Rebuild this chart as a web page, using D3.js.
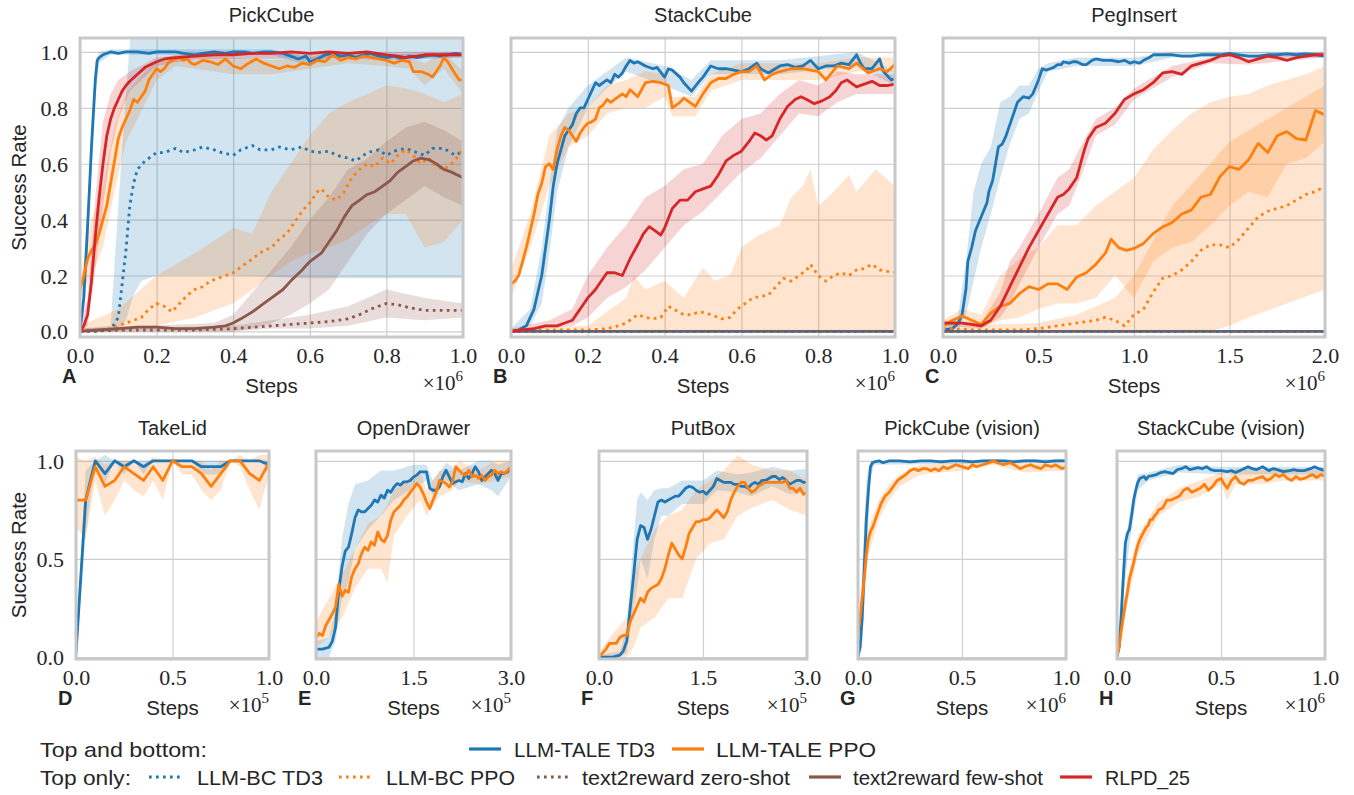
<!DOCTYPE html>
<html><head><meta charset="utf-8">
<script src="https://cdn.jsdelivr.net/npm/d3@7"></script>
<style>body{margin:0;background:#fff}svg{display:block}</style>
</head><body><svg id="c" width="1354" height="795"></svg>
<script>
// ---------------- DATA ----------------
const panelTitles = ["PickCube","StackCube","PegInsert","TakeLid","OpenDrawer","PutBox","PickCube (vision)","StackCube (vision)"];
const panelLetters = ["A","B","C","D","E","F","G","H"];
const seriesNames = ["LLM-TALE TD3","LLM-TALE PPO","LLM-BC TD3","LLM-BC PPO","text2reward zero-shot","text2reward few-shot","RLPD_25"];
const yTicksTop = [0,0.2,0.4,0.6,0.8,1.0];
const yTicksBottom = [0,0.5,1.0];
const xTicks1 = [0,0.2,0.4,0.6,0.8,1.0];
const xTicks2 = [0,0.5,1.0,1.5,2.0];
const xTicksHalf = [0,0.5,1.0];
const xTicks3 = [0,1.5,3.0];

const flatZero1 = [[0,0],[1,0]];
const flatZero2 = [[0,0],[2,0]];

// --- PickCube
const pickTaleTD3 = [[0,0],[0.01,0.12],[0.02,0.38],[0.03,0.66],[0.04,0.9],[0.045,0.97],[0.05,0.98],[0.06,0.99],[0.08,1.0],[0.1,0.995],[0.12,1.0],[0.15,1.0],[0.18,0.995],[0.2,1.0],[0.23,1.0],[0.25,1.0],[0.27,0.995],[0.3,0.99],[0.32,0.995],[0.35,1.0],[0.38,0.995],[0.4,1.0],[0.43,1.0],[0.45,0.995],[0.48,1.0],[0.5,1.0],[0.53,0.995],[0.55,0.985],[0.57,0.975],[0.59,0.985],[0.6,0.965],[0.62,0.975],[0.64,0.99],[0.66,0.995],[0.68,0.985],[0.7,0.99],[0.72,0.98],[0.74,0.99],[0.76,0.995],[0.78,0.985],[0.8,0.98],[0.82,0.985],[0.84,0.975],[0.86,0.985],[0.88,0.98],[0.9,0.985],[0.92,0.99],[0.94,0.985],[0.96,0.99],[0.98,0.995],[1.0,0.99]];
const pickTaleTD3Band = [[0,0,0.02],[0.02,0.3,0.46],[0.03,0.58,0.74],[0.04,0.84,0.96],[0.05,0.96,1.0],[0.08,0.99,1.01],[0.5,0.99,1.01],[0.6,0.95,0.98],[0.65,0.98,1.0],[0.8,0.97,0.99],[0.9,0.975,0.995],[1.0,0.98,1.0]];
const pickTalePPO = [[0,0.15],[0.01,0.2],[0.02,0.26],[0.03,0.29],[0.04,0.31],[0.05,0.35],[0.06,0.4],[0.07,0.45],[0.08,0.53],[0.09,0.61],[0.1,0.69],[0.11,0.73],[0.12,0.76],[0.13,0.79],[0.14,0.83],[0.15,0.82],[0.16,0.84],[0.17,0.86],[0.18,0.9],[0.19,0.92],[0.2,0.94],[0.21,0.93],[0.22,0.94],[0.23,0.96],[0.24,0.97],[0.26,0.98],[0.27,0.97],[0.28,0.975],[0.29,0.96],[0.3,0.955],[0.32,0.97],[0.34,0.965],[0.36,0.955],[0.38,0.975],[0.4,0.95],[0.42,0.94],[0.44,0.96],[0.46,0.975],[0.48,0.96],[0.5,0.95],[0.52,0.94],[0.54,0.95],[0.56,0.945],[0.58,0.96],[0.6,0.955],[0.62,0.97],[0.64,0.965],[0.66,0.99],[0.68,0.97],[0.7,0.98],[0.72,0.975],[0.74,0.985],[0.76,0.98],[0.78,0.975],[0.8,0.97],[0.82,0.96],[0.84,0.97],[0.86,0.965],[0.87,0.93],[0.89,0.93],[0.91,0.92],[0.92,0.91],[0.94,0.95],[0.95,0.98],[0.96,0.965],[0.98,0.92],[0.99,0.9],[1.0,0.9]];
const pickTalePPOBand = [[0,0.12,0.18],[0.03,0.2,0.4],[0.06,0.3,0.52],[0.09,0.5,0.73],[0.12,0.68,0.85],[0.15,0.76,0.9],[0.2,0.9,0.97],[0.25,0.95,0.99],[0.4,0.92,0.98],[0.5,0.92,0.97],[0.6,0.94,0.98],[0.7,0.96,0.99],[0.8,0.95,0.99],[0.86,0.94,0.98],[0.9,0.88,0.96],[0.95,0.94,1.0],[1.0,0.85,0.93]];
const pickBCTD3 = [[0,0],[0.04,0],[0.08,0.005],[0.1,0.05],[0.11,0.17],[0.12,0.29],[0.13,0.45],[0.14,0.53],[0.15,0.58],[0.17,0.61],[0.2,0.64],[0.22,0.64],[0.25,0.655],[0.27,0.64],[0.3,0.65],[0.32,0.66],[0.35,0.65],[0.37,0.64],[0.4,0.63],[0.42,0.65],[0.45,0.665],[0.47,0.65],[0.5,0.65],[0.52,0.66],[0.55,0.65],[0.58,0.66],[0.6,0.645],[0.62,0.64],[0.65,0.645],[0.67,0.63],[0.7,0.62],[0.72,0.61],[0.75,0.64],[0.78,0.65],[0.8,0.63],[0.82,0.645],[0.85,0.655],[0.88,0.64],[0.9,0.63],[0.92,0.655],[0.95,0.655],[0.98,0.63],[1.0,0.645]];
const pickBCTD3Band = [[0,0,0.01],[0.08,0,0.02],[0.1,0,0.45],[0.12,0.04,0.85],[0.14,0.13,1.2],[0.16,0.18,1.2],[0.2,0.2,1.2],[0.4,0.2,1.2],[0.6,0.19,1.2],[0.8,0.19,1.2],[1.0,0.19,1.2]];
const pickBCPPO = [[0,0],[0.05,0.005],[0.08,0.01],[0.1,0.02],[0.12,0.03],[0.14,0.04],[0.16,0.05],[0.18,0.08],[0.2,0.1],[0.22,0.09],[0.24,0.07],[0.26,0.1],[0.28,0.13],[0.3,0.15],[0.32,0.16],[0.34,0.18],[0.36,0.19],[0.38,0.2],[0.4,0.21],[0.42,0.23],[0.44,0.25],[0.46,0.27],[0.48,0.29],[0.5,0.3],[0.52,0.33],[0.54,0.35],[0.56,0.39],[0.58,0.43],[0.6,0.46],[0.62,0.5],[0.63,0.51],[0.65,0.48],[0.67,0.47],[0.69,0.5],[0.71,0.55],[0.73,0.58],[0.75,0.6],[0.77,0.59],[0.79,0.62],[0.81,0.6],[0.83,0.63],[0.85,0.65],[0.87,0.63],[0.89,0.6],[0.91,0.62],[0.93,0.59],[0.95,0.58],[0.97,0.6],[0.99,0.63],[1.0,0.66]];
const pickBCPPOBand = [[0,0,0.02],[0.1,0,0.08],[0.2,0.02,0.2],[0.3,0.05,0.28],[0.4,0.1,0.37],[0.45,0.15,0.35],[0.5,0.2,0.5],[0.55,0.25,0.6],[0.6,0.28,0.7],[0.65,0.3,0.78],[0.7,0.33,0.82],[0.75,0.38,0.85],[0.8,0.42,0.88],[0.85,0.42,0.87],[0.9,0.3,0.85],[0.95,0.32,0.82],[1.0,0.4,0.85]];
const pickT2RZero = [[0,0],[0.1,0.005],[0.2,0.005],[0.3,0.005],[0.4,0.01],[0.5,0.02],[0.55,0.025],[0.6,0.03],[0.65,0.035],[0.7,0.045],[0.73,0.06],[0.76,0.08],[0.8,0.1],[0.83,0.095],[0.86,0.085],[0.9,0.075],[0.95,0.075],[1.0,0.075]];
const pickT2RZeroBand = [[0,0,0.01],[0.4,0,0.02],[0.5,0.01,0.04],[0.6,0.01,0.06],[0.7,0.02,0.09],[0.8,0.05,0.15],[0.9,0.04,0.12],[1.0,0.05,0.1]];
const pickT2RFew = [[0,0],[0.05,0.005],[0.1,0.01],[0.15,0.015],[0.2,0.015],[0.25,0.01],[0.3,0.01],[0.35,0.015],[0.38,0.02],[0.4,0.03],[0.42,0.045],[0.45,0.07],[0.48,0.1],[0.5,0.12],[0.53,0.15],[0.55,0.18],[0.58,0.22],[0.6,0.25],[0.63,0.28],[0.65,0.32],[0.67,0.36],[0.69,0.41],[0.71,0.45],[0.73,0.47],[0.75,0.49],[0.77,0.5],[0.79,0.52],[0.81,0.54],[0.83,0.57],[0.85,0.59],[0.87,0.61],[0.89,0.62],[0.91,0.615],[0.93,0.6],[0.95,0.58],[0.97,0.57],[1.0,0.55]];
const pickT2RFewBand = [[0,0,0.01],[0.35,0,0.03],[0.4,0,0.06],[0.45,0.01,0.14],[0.5,0.03,0.22],[0.55,0.06,0.3],[0.6,0.1,0.4],[0.65,0.15,0.48],[0.7,0.25,0.58],[0.75,0.35,0.62],[0.8,0.42,0.68],[0.85,0.47,0.73],[0.9,0.52,0.75],[0.95,0.48,0.72],[1.0,0.45,0.68]];
const pickRLPD = [[0,0],[0.01,0.02],[0.02,0.06],[0.03,0.18],[0.04,0.34],[0.05,0.48],[0.06,0.6],[0.07,0.7],[0.08,0.76],[0.09,0.8],[0.1,0.83],[0.11,0.86],[0.12,0.88],[0.13,0.895],[0.15,0.92],[0.17,0.945],[0.2,0.965],[0.22,0.975],[0.25,0.98],[0.3,0.985],[0.35,0.99],[0.4,0.99],[0.45,0.995],[0.5,0.995],[0.55,1.0],[0.6,0.995],[0.65,1.0],[0.7,0.995],[0.75,1.0],[0.8,0.99],[0.83,0.985],[0.85,0.98],[0.88,0.985],[0.9,0.99],[0.95,0.99],[1.0,0.99]];
const pickRLPDBand = [[0,0,0.02],[0.02,0.02,0.12],[0.04,0.22,0.48],[0.06,0.45,0.75],[0.08,0.64,0.85],[0.1,0.76,0.9],[0.13,0.86,0.93],[0.2,0.95,0.98],[0.3,0.975,0.995],[1.0,0.98,1.0]];

// --- StackCube
const stackTaleTD3 = [[0,0],[0.02,0.005],[0.04,0.02],[0.06,0.08],[0.07,0.14],[0.08,0.2],[0.09,0.3],[0.1,0.4],[0.11,0.52],[0.12,0.6],[0.13,0.65],[0.14,0.7],[0.15,0.72],[0.16,0.74],[0.17,0.78],[0.18,0.8],[0.19,0.8],[0.2,0.83],[0.21,0.86],[0.22,0.89],[0.23,0.88],[0.24,0.89],[0.25,0.9],[0.26,0.89],[0.27,0.92],[0.28,0.91],[0.29,0.925],[0.3,0.95],[0.31,0.97],[0.32,0.96],[0.33,0.965],[0.35,0.95],[0.37,0.94],[0.38,0.945],[0.4,0.91],[0.41,0.94],[0.42,0.935],[0.44,0.91],[0.45,0.89],[0.47,0.86],[0.49,0.895],[0.5,0.91],[0.52,0.95],[0.54,0.94],[0.56,0.94],[0.58,0.935],[0.6,0.93],[0.62,0.94],[0.64,0.96],[0.65,0.94],[0.67,0.925],[0.7,0.95],[0.72,0.955],[0.74,0.945],[0.76,0.95],[0.78,0.97],[0.8,0.94],[0.82,0.95],[0.84,0.95],[0.86,0.96],[0.88,0.955],[0.9,0.99],[0.91,0.96],[0.92,0.94],[0.94,0.94],[0.96,0.975],[0.97,0.93],[0.99,0.9],[1.0,0.905]];
const stackTaleTD3Band = [[0,0,0.01],[0.05,0.02,0.08],[0.08,0.1,0.3],[0.1,0.28,0.52],[0.12,0.5,0.72],[0.15,0.66,0.8],[0.2,0.8,0.88],[0.25,0.87,0.93],[0.3,0.93,0.98],[0.4,0.88,0.95],[0.47,0.84,0.9],[0.52,0.92,0.97],[0.7,0.92,0.97],[0.9,0.95,1.0],[1.0,0.88,0.93]];
const stackTalePPO = [[0,0.17],[0.01,0.18],[0.02,0.2],[0.03,0.25],[0.04,0.3],[0.05,0.36],[0.06,0.42],[0.07,0.49],[0.08,0.53],[0.09,0.59],[0.1,0.6],[0.11,0.58],[0.12,0.65],[0.13,0.7],[0.14,0.73],[0.15,0.72],[0.16,0.7],[0.17,0.68],[0.18,0.71],[0.19,0.73],[0.2,0.745],[0.21,0.75],[0.22,0.76],[0.23,0.8],[0.24,0.81],[0.25,0.83],[0.26,0.82],[0.27,0.83],[0.28,0.84],[0.29,0.85],[0.3,0.84],[0.31,0.865],[0.33,0.84],[0.35,0.89],[0.37,0.895],[0.39,0.89],[0.41,0.88],[0.42,0.8],[0.44,0.82],[0.45,0.835],[0.47,0.815],[0.48,0.805],[0.5,0.85],[0.52,0.89],[0.54,0.905],[0.56,0.905],[0.58,0.92],[0.6,0.93],[0.62,0.93],[0.64,0.95],[0.66,0.9],[0.68,0.92],[0.7,0.93],[0.73,0.94],[0.76,0.94],[0.78,0.935],[0.8,0.93],[0.82,0.9],[0.85,0.95],[0.88,0.94],[0.9,0.96],[0.93,0.925],[0.96,0.94],[0.98,0.93],[1.0,0.955]];
const stackTalePPOBand = [[0,0.12,0.22],[0.05,0.3,0.42],[0.1,0.52,0.7],[0.15,0.66,0.78],[0.2,0.7,0.8],[0.25,0.78,0.88],[0.3,0.8,0.9],[0.35,0.8,0.93],[0.4,0.84,0.92],[0.42,0.77,0.84],[0.48,0.77,0.84],[0.52,0.86,0.92],[0.6,0.9,0.96],[0.7,0.9,0.96],[0.8,0.9,0.96],[0.9,0.93,0.98],[1.0,0.93,0.98]];
const stackBCPPO = [[0,0],[0.1,0.005],[0.2,0.005],[0.25,0.01],[0.28,0.02],[0.3,0.03],[0.32,0.05],[0.33,0.06],[0.35,0.05],[0.37,0.045],[0.39,0.05],[0.4,0.07],[0.41,0.09],[0.43,0.075],[0.45,0.06],[0.47,0.06],[0.49,0.07],[0.51,0.065],[0.53,0.055],[0.55,0.045],[0.57,0.05],[0.59,0.08],[0.61,0.1],[0.63,0.12],[0.65,0.125],[0.67,0.13],[0.69,0.16],[0.71,0.19],[0.73,0.18],[0.75,0.2],[0.77,0.22],[0.78,0.24],[0.8,0.2],[0.82,0.18],[0.84,0.2],[0.86,0.21],[0.88,0.2],[0.9,0.22],[0.92,0.225],[0.94,0.24],[0.96,0.22],[0.98,0.215],[1.0,0.21]];
const stackBCPPOBand = [[0,0,0.01],[0.2,0,0.02],[0.25,0,0.07],[0.3,0,0.12],[0.32,0,0.2],[0.35,0,0.15],[0.4,0,0.18],[0.45,0,0.12],[0.5,0,0.23],[0.53,0,0.18],[0.57,0,0.2],[0.6,0,0.3],[0.64,0,0.34],[0.7,0,0.38],[0.73,0,0.48],[0.76,0,0.52],[0.78,0,0.58],[0.8,0,0.45],[0.84,0,0.5],[0.88,0,0.56],[0.9,0,0.5],[0.95,0,0.58],[1.0,0,0.52]];
const stackRLPD = [[0,0],[0.03,0.005],[0.06,0.01],[0.09,0.02],[0.12,0.02],[0.14,0.03],[0.16,0.04],[0.17,0.06],[0.19,0.1],[0.2,0.12],[0.22,0.15],[0.24,0.19],[0.25,0.21],[0.27,0.21],[0.29,0.2],[0.31,0.26],[0.33,0.31],[0.345,0.35],[0.36,0.375],[0.38,0.355],[0.39,0.345],[0.4,0.37],[0.42,0.44],[0.44,0.47],[0.46,0.47],[0.48,0.5],[0.5,0.51],[0.52,0.52],[0.54,0.56],[0.56,0.61],[0.58,0.63],[0.6,0.645],[0.62,0.68],[0.635,0.71],[0.65,0.7],[0.665,0.685],[0.68,0.7],[0.7,0.76],[0.72,0.805],[0.74,0.83],[0.755,0.84],[0.77,0.83],[0.79,0.815],[0.81,0.825],[0.83,0.84],[0.845,0.86],[0.86,0.89],[0.875,0.9],[0.89,0.885],[0.9,0.875],[0.92,0.885],[0.94,0.895],[0.96,0.88],[0.98,0.88],[1.0,0.885]];
const stackRLPDBand = [[0,0,0.01],[0.1,0.01,0.04],[0.16,0.02,0.08],[0.2,0.05,0.2],[0.25,0.12,0.3],[0.3,0.16,0.38],[0.35,0.22,0.48],[0.4,0.3,0.52],[0.45,0.38,0.58],[0.5,0.43,0.6],[0.55,0.5,0.7],[0.6,0.57,0.76],[0.65,0.62,0.78],[0.7,0.7,0.85],[0.75,0.78,0.9],[0.8,0.77,0.88],[0.85,0.82,0.93],[0.9,0.85,0.92],[1.0,0.85,0.92]];

// --- PegInsert
const pegTaleTD3 = [[0,0.005],[0.05,0.01],[0.08,0.03],[0.1,0.06],[0.12,0.15],[0.13,0.25],[0.15,0.3],[0.17,0.36],[0.2,0.41],[0.23,0.46],[0.24,0.5],[0.26,0.54],[0.28,0.62],[0.29,0.66],[0.31,0.67],[0.33,0.7],[0.35,0.74],[0.37,0.78],[0.39,0.82],[0.42,0.84],[0.45,0.835],[0.47,0.85],[0.5,0.9],[0.52,0.94],[0.54,0.935],[0.56,0.94],[0.58,0.945],[0.6,0.955],[0.62,0.955],[0.63,0.965],[0.66,0.96],[0.68,0.965],[0.7,0.965],[0.73,0.955],[0.75,0.955],[0.78,0.97],[0.8,0.975],[0.84,0.97],[0.88,0.97],[0.92,0.965],[0.95,0.97],[0.98,0.96],[1.0,0.965],[1.03,0.96],[1.05,0.97],[1.08,0.98],[1.1,0.99],[1.15,0.99],[1.2,0.99],[1.25,0.985],[1.3,0.985],[1.35,0.99],[1.4,0.99],[1.45,0.99],[1.5,0.995],[1.55,0.99],[1.6,0.985],[1.65,0.985],[1.7,0.99],[1.75,0.99],[1.8,0.993],[1.85,0.99],[1.9,0.993],[1.95,0.99],[2.0,0.985]];
const pegTaleTD3Band = [[0,0,0.01],[0.08,0.01,0.06],[0.12,0.06,0.25],[0.16,0.18,0.5],[0.2,0.3,0.6],[0.25,0.42,0.66],[0.3,0.55,0.82],[0.35,0.67,0.84],[0.4,0.76,0.88],[0.45,0.78,0.88],[0.5,0.86,0.94],[0.55,0.93,0.96],[0.7,0.95,0.98],[1.0,0.95,0.98],[1.2,0.98,1.0],[2.0,0.98,1.0]];
const pegTalePPO = [[0,0.02],[0.05,0.04],[0.1,0.055],[0.15,0.04],[0.2,0.025],[0.25,0.065],[0.3,0.09],[0.35,0.1],[0.4,0.135],[0.45,0.16],[0.5,0.15],[0.55,0.17],[0.6,0.17],[0.65,0.15],[0.7,0.195],[0.75,0.21],[0.8,0.24],[0.85,0.28],[0.88,0.33],[0.92,0.3],[0.96,0.29],[1.0,0.297],[1.05,0.315],[1.1,0.35],[1.15,0.374],[1.2,0.39],[1.25,0.42],[1.3,0.434],[1.35,0.48],[1.4,0.49],[1.45,0.554],[1.5,0.59],[1.55,0.58],[1.6,0.614],[1.65,0.673],[1.7,0.64],[1.75,0.7],[1.8,0.715],[1.85,0.69],[1.9,0.685],[1.95,0.79],[2.0,0.775]];
const pegTalePPOBand = [[0,0.01,0.04],[0.1,0.03,0.08],[0.2,0.01,0.06],[0.3,0.04,0.2],[0.4,0.05,0.26],[0.5,0.08,0.3],[0.6,0.1,0.38],[0.7,0.1,0.38],[0.8,0.12,0.45],[0.9,0.2,0.5],[1.0,0.12,0.55],[1.1,0.25,0.65],[1.2,0.3,0.72],[1.3,0.32,0.78],[1.4,0.38,0.82],[1.5,0.45,0.84],[1.6,0.5,0.85],[1.7,0.48,0.88],[1.8,0.6,0.9],[1.9,0.62,0.92],[2.0,0.68,0.95]];
const pegBCPPO = [[0,0.01],[0.2,0.005],[0.4,0.005],[0.5,0.01],[0.6,0.02],[0.7,0.03],[0.8,0.04],[0.85,0.05],[0.9,0.04],[0.95,0.02],[1.0,0.06],[1.05,0.08],[1.1,0.14],[1.15,0.19],[1.2,0.2],[1.25,0.22],[1.3,0.25],[1.35,0.29],[1.4,0.31],[1.45,0.31],[1.5,0.3],[1.55,0.33],[1.6,0.37],[1.65,0.41],[1.7,0.43],[1.75,0.44],[1.8,0.45],[1.85,0.47],[1.9,0.49],[1.95,0.5],[2.0,0.52]];
const pegBCPPOBand = [[0,0,0.02],[0.5,0,0.03],[0.7,0,0.06],[0.9,0,0.12],[1.0,0,0.2],[1.2,0,0.45],[1.4,0,0.6],[1.5,0.02,0.68],[1.6,0.05,0.72],[1.8,0.1,0.8],[2.0,0.15,0.88]];
const pegRLPD = [[0,0.03],[0.05,0.03],[0.1,0.03],[0.15,0.025],[0.2,0.02],[0.25,0.04],[0.3,0.09],[0.35,0.16],[0.4,0.23],[0.45,0.3],[0.5,0.36],[0.55,0.42],[0.6,0.48],[0.63,0.49],[0.66,0.51],[0.7,0.55],[0.72,0.6],[0.74,0.65],[0.76,0.69],[0.8,0.73],[0.85,0.745],[0.9,0.78],[0.95,0.83],[1.0,0.85],[1.05,0.865],[1.1,0.89],[1.15,0.925],[1.2,0.93],[1.25,0.92],[1.3,0.95],[1.35,0.96],[1.4,0.97],[1.45,0.985],[1.5,0.99],[1.55,0.98],[1.6,0.965],[1.65,0.975],[1.7,0.985],[1.75,0.98],[1.8,0.97],[1.85,0.98],[1.9,0.985],[1.95,0.99],[2.0,0.99]];
const pegRLPDBand = [[0,0.02,0.04],[0.2,0.01,0.03],[0.3,0.05,0.14],[0.35,0.1,0.25],[0.4,0.17,0.3],[0.5,0.3,0.42],[0.6,0.42,0.55],[0.66,0.45,0.58],[0.72,0.55,0.66],[0.8,0.7,0.76],[0.9,0.74,0.8],[1.0,0.83,0.87],[1.2,0.91,0.95],[1.4,0.96,0.98],[1.6,0.955,0.98],[2.0,0.98,1.0]];

// --- TakeLid (x in 1e5 steps)
const lidTD3 = [[0,0.02],[0.05,0.8],[0.1,1.0],[0.15,0.935],[0.2,1.0],[0.25,0.97],[0.3,1.0],[0.35,0.97],[0.4,1.0],[0.45,1.0],[0.5,1.0],[0.55,1.0],[0.6,1.0],[0.65,0.97],[0.7,0.97],[0.75,0.97],[0.8,1.0],[0.85,1.0],[0.9,1.0],[0.95,1.0],[1.0,0.98]];
const lidTD3Band = [[0,0,0.05],[0.05,0.62,0.95],[0.1,1.0,1.0],[0.15,0.88,1.03],[0.2,1.0,1.0],[0.25,0.93,1.0],[0.3,1,1],[0.35,0.93,1.0],[0.4,1,1],[0.6,1,1],[0.65,0.93,1.0],[0.75,0.93,1.0],[0.8,1,1],[0.95,1,1],[1.0,0.95,1.0]];
const lidPPO = [[0,0.8],[0.05,0.8],[0.1,0.97],[0.15,0.87],[0.2,0.9],[0.25,0.97],[0.3,0.935],[0.35,0.9],[0.4,0.97],[0.45,0.9],[0.5,1.0],[0.55,0.97],[0.6,0.97],[0.65,0.935],[0.7,0.87],[0.75,0.935],[0.8,1.0],[0.85,1.0],[0.9,0.935],[0.95,0.9],[1.0,0.99]];
const lidPPOBand = [[0,0.66,1.02],[0.05,0.6,1.0],[0.1,0.9,1.02],[0.15,0.72,0.98],[0.2,0.8,1.0],[0.25,0.9,1.0],[0.3,0.85,1.0],[0.35,0.82,0.98],[0.4,0.9,1.02],[0.45,0.8,1.0],[0.5,1,1],[0.55,0.93,1.0],[0.6,0.93,1.0],[0.65,0.85,1.0],[0.7,0.8,0.95],[0.75,0.85,1.0],[0.8,1,1],[0.85,0.97,1.03],[0.9,0.85,1.0],[0.95,0.75,1.03],[1.0,0.93,1.03]];

// --- OpenDrawer (x in 1e5 steps)
const drawerTD3 = [[0,0.04],[0.05,0.04],[0.1,0.04],[0.15,0.045],[0.2,0.05],[0.25,0.08],[0.3,0.15],[0.35,0.34],[0.4,0.46],[0.45,0.54],[0.5,0.56],[0.55,0.63],[0.6,0.71],[0.65,0.75],[0.7,0.74],[0.75,0.74],[0.8,0.757],[0.85,0.774],[0.9,0.8],[0.95,0.79],[1.0,0.825],[1.05,0.81],[1.1,0.85],[1.15,0.84],[1.2,0.867],[1.25,0.884],[1.3,0.876],[1.35,0.893],[1.4,0.893],[1.45,0.9],[1.5,0.918],[1.55,0.927],[1.6,0.944],[1.65,0.944],[1.7,0.944],[1.75,0.86],[1.8,0.85],[1.85,0.85],[1.9,0.867],[1.95,0.918],[2.0,0.952],[2.05,0.918],[2.1,0.884],[2.15,0.893],[2.2,0.9],[2.25,0.893],[2.3,0.935],[2.35,0.91],[2.4,0.935],[2.45,0.97],[2.5,0.944],[2.55,0.9],[2.6,0.918],[2.65,0.935],[2.7,0.952],[2.75,0.935],[2.8,0.9],[2.85,0.935],[2.9,0.935],[2.95,0.944],[3.0,0.96]];
const drawerTD3Band = [[0,0,0.08],[0.2,0.0,0.1],[0.3,0.08,0.25],[0.4,0.3,0.6],[0.5,0.38,0.78],[0.6,0.55,0.88],[0.8,0.65,0.9],[1.0,0.72,0.95],[1.2,0.8,0.95],[1.5,0.86,0.98],[1.7,0.9,0.98],[1.8,0.82,0.9],[2.0,0.9,0.99],[2.2,0.85,0.95],[2.5,0.88,1.0],[2.7,0.85,1.0],[2.8,0.82,0.98],[3.0,0.92,1.0]];
const drawerPPO = [[0,0.1],[0.05,0.12],[0.1,0.11],[0.15,0.16],[0.2,0.19],[0.25,0.22],[0.3,0.255],[0.35,0.37],[0.4,0.31],[0.45,0.34],[0.5,0.33],[0.55,0.41],[0.6,0.45],[0.65,0.476],[0.7,0.527],[0.75,0.56],[0.8,0.544],[0.85,0.587],[0.9,0.57],[0.95,0.638],[1.0,0.6],[1.05,0.587],[1.1,0.62],[1.15,0.697],[1.2,0.74],[1.25,0.757],[1.3,0.774],[1.35,0.8],[1.4,0.816],[1.45,0.84],[1.5,0.86],[1.55,0.884],[1.6,0.867],[1.65,0.833],[1.7,0.79],[1.75,0.757],[1.8,0.8],[1.85,0.84],[1.9,0.9],[1.95,0.893],[2.0,0.884],[2.05,0.867],[2.1,0.893],[2.15,0.97],[2.2,0.952],[2.25,0.935],[2.3,0.927],[2.35,0.952],[2.4,0.918],[2.45,0.927],[2.5,0.91],[2.55,0.927],[2.6,0.9],[2.65,0.918],[2.7,0.927],[2.75,0.952],[2.8,0.935],[2.85,0.944],[2.9,0.935],[2.95,0.952],[3.0,0.97]];
const drawerPPOBand = [[0,0.05,0.18],[0.2,0.1,0.3],[0.4,0.2,0.42],[0.6,0.35,0.55],[0.8,0.45,0.68],[1.0,0.45,0.72],[1.1,0.38,0.78],[1.2,0.62,0.85],[1.4,0.72,0.9],[1.6,0.8,0.95],[1.7,0.72,0.85],[1.9,0.82,0.95],[2.1,0.85,0.95],[2.2,0.9,1.0],[2.5,0.88,0.95],[2.75,0.9,1.0],[3.0,0.92,1.0]];

// --- PutBox (x in 1e5 steps)
const boxTD3 = [[0,0],[0.05,0],[0.1,0],[0.15,0],[0.2,0],[0.25,0.005],[0.3,0.01],[0.35,0.03],[0.4,0.08],[0.45,0.25],[0.5,0.42],[0.55,0.6],[0.6,0.67],[0.65,0.66],[0.7,0.6],[0.75,0.65],[0.8,0.72],[0.85,0.79],[0.9,0.8],[0.95,0.79],[1.0,0.8],[1.05,0.81],[1.1,0.82],[1.15,0.82],[1.2,0.84],[1.25,0.86],[1.3,0.87],[1.35,0.865],[1.4,0.85],[1.45,0.84],[1.5,0.845],[1.55,0.83],[1.6,0.85],[1.65,0.87],[1.7,0.91],[1.75,0.9],[1.8,0.89],[1.85,0.89],[1.9,0.89],[1.95,0.88],[2.0,0.88],[2.05,0.87],[2.1,0.87],[2.15,0.86],[2.2,0.88],[2.25,0.89],[2.3,0.88],[2.35,0.9],[2.4,0.9],[2.45,0.91],[2.5,0.92],[2.55,0.92],[2.6,0.905],[2.65,0.915],[2.7,0.9],[2.75,0.88],[2.8,0.89],[2.85,0.9],[2.9,0.9],[2.95,0.89],[3.0,0.89]];
const boxTD3Band = [[0,0,0.01],[0.3,0,0.03],[0.4,0.02,0.15],[0.5,0.25,0.6],[0.55,0.35,0.8],[0.6,0.5,0.84],[0.7,0.4,0.8],[0.8,0.6,0.85],[0.9,0.72,0.86],[1.0,0.72,0.86],[1.2,0.78,0.9],[1.5,0.78,0.9],[1.7,0.85,0.95],[2.0,0.84,0.93],[2.2,0.82,0.94],[2.5,0.87,0.97],[2.75,0.83,0.95],[3.0,0.85,0.96]];
const boxPPO = [[0,0],[0.05,0.02],[0.1,0.04],[0.15,0.07],[0.2,0.07],[0.25,0.07],[0.3,0.1],[0.35,0.11],[0.4,0.11],[0.45,0.18],[0.5,0.22],[0.55,0.26],[0.6,0.3],[0.65,0.28],[0.7,0.33],[0.75,0.35],[0.8,0.36],[0.85,0.37],[0.9,0.4],[0.95,0.45],[1.0,0.52],[1.05,0.58],[1.1,0.55],[1.15,0.52],[1.2,0.5],[1.25,0.56],[1.3,0.63],[1.35,0.66],[1.4,0.69],[1.45,0.69],[1.5,0.7],[1.55,0.7],[1.6,0.71],[1.65,0.73],[1.7,0.75],[1.75,0.73],[1.8,0.71],[1.85,0.74],[1.9,0.8],[1.95,0.84],[2.0,0.87],[2.05,0.89],[2.1,0.89],[2.15,0.86],[2.2,0.84],[2.25,0.85],[2.3,0.87],[2.35,0.88],[2.4,0.89],[2.45,0.89],[2.5,0.89],[2.55,0.89],[2.6,0.89],[2.65,0.89],[2.7,0.9],[2.75,0.86],[2.8,0.86],[2.85,0.84],[2.9,0.86],[2.95,0.83],[3.0,0.84]];
const boxPPOBand = [[0,0,0.02],[0.2,0,0.12],[0.4,0,0.2],[0.5,0.05,0.42],[0.6,0.15,0.5],[0.8,0.2,0.65],[1.0,0.3,0.72],[1.2,0.3,0.75],[1.4,0.5,0.85],[1.6,0.58,0.9],[1.8,0.6,0.95],[2.0,0.72,1.03],[2.2,0.76,0.98],[2.5,0.8,0.95],[2.75,0.75,0.95],[3.0,0.72,0.9]];

// --- PickCube (vision) (x in 1e6 steps)
const pickVisTD3 = [[0,0],[0.01,0.05],[0.02,0.2],[0.03,0.45],[0.04,0.7],[0.05,0.85],[0.06,0.97],[0.07,0.99],[0.08,0.995],[0.1,1.0],[0.12,0.99],[0.15,1.0],[0.2,1.0],[0.25,0.995],[0.3,1.0],[0.35,1.0],[0.4,0.995],[0.45,1.0],[0.5,1.0],[0.55,0.995],[0.6,1.0],[0.65,1.0],[0.7,1.0],[0.75,0.995],[0.8,1.0],[0.85,1.0],[0.9,0.995],[0.95,1.0],[1.0,1.0]];
const pickVisTD3Band = [[0,0,0.05],[0.02,0.05,0.45],[0.04,0.45,0.9],[0.06,0.92,1.0],[0.08,0.98,1.0],[1.0,0.99,1.01]];
const pickVisPPO = [[0,0.12],[0.01,0.2],[0.02,0.3],[0.03,0.4],[0.04,0.52],[0.05,0.6],[0.06,0.64],[0.07,0.66],[0.08,0.69],[0.09,0.72],[0.1,0.75],[0.11,0.78],[0.12,0.8],[0.13,0.82],[0.14,0.83],[0.15,0.84],[0.17,0.87],[0.19,0.9],[0.21,0.915],[0.23,0.93],[0.25,0.95],[0.27,0.96],[0.29,0.95],[0.31,0.96],[0.33,0.96],[0.35,0.95],[0.37,0.96],[0.39,0.95],[0.41,0.97],[0.43,0.96],[0.45,0.97],[0.47,0.98],[0.5,0.97],[0.53,0.96],[0.55,0.98],[0.57,0.97],[0.6,0.98],[0.63,0.99],[0.65,1.0],[0.67,0.99],[0.7,0.98],[0.73,0.99],[0.75,0.98],[0.78,0.96],[0.8,0.97],[0.83,0.98],[0.85,0.97],[0.88,0.96],[0.9,0.98],[0.93,0.97],[0.95,0.98],[0.98,0.96],[1.0,0.97]];
const pickVisPPOBand = [[0,0.08,0.18],[0.05,0.52,0.66],[0.1,0.7,0.8],[0.15,0.8,0.88],[0.2,0.87,0.93],[0.3,0.93,0.98],[0.5,0.95,0.99],[0.65,0.98,1.01],[0.8,0.94,0.99],[1.0,0.95,0.99]];

// --- StackCube (vision)
const stackVisTD3 = [[0,0],[0.01,0.05],[0.02,0.2],[0.03,0.4],[0.04,0.58],[0.05,0.63],[0.06,0.65],[0.07,0.72],[0.08,0.8],[0.09,0.85],[0.1,0.89],[0.11,0.91],[0.12,0.915],[0.13,0.92],[0.14,0.905],[0.15,0.92],[0.17,0.925],[0.19,0.93],[0.21,0.94],[0.23,0.945],[0.25,0.94],[0.27,0.935],[0.29,0.955],[0.31,0.96],[0.33,0.97],[0.35,0.955],[0.37,0.96],[0.39,0.965],[0.41,0.96],[0.43,0.97],[0.45,0.955],[0.47,0.95],[0.5,0.95],[0.53,0.945],[0.55,0.95],[0.57,0.94],[0.6,0.955],[0.63,0.97],[0.65,0.96],[0.67,0.955],[0.7,0.97],[0.73,0.95],[0.75,0.96],[0.77,0.955],[0.8,0.945],[0.83,0.95],[0.85,0.955],[0.87,0.95],[0.9,0.95],[0.93,0.96],[0.95,0.97],[0.97,0.96],[1.0,0.95]];
const stackVisTD3Band = [[0,0,0.03],[0.03,0.3,0.5],[0.06,0.58,0.72],[0.1,0.85,0.93],[0.15,0.9,0.94],[0.3,0.94,0.98],[0.5,0.93,0.97],[1.0,0.93,0.97]];
const stackVisPPO = [[0,0.01],[0.01,0.05],[0.02,0.13],[0.03,0.2],[0.04,0.27],[0.05,0.33],[0.06,0.4],[0.07,0.44],[0.08,0.48],[0.09,0.53],[0.1,0.57],[0.11,0.6],[0.12,0.62],[0.13,0.64],[0.14,0.66],[0.15,0.67],[0.16,0.7],[0.17,0.7],[0.18,0.72],[0.19,0.73],[0.2,0.75],[0.22,0.76],[0.24,0.8],[0.26,0.8],[0.28,0.81],[0.3,0.82],[0.32,0.85],[0.34,0.86],[0.36,0.84],[0.38,0.85],[0.4,0.86],[0.42,0.88],[0.44,0.85],[0.46,0.87],[0.48,0.9],[0.5,0.91],[0.51,0.89],[0.53,0.86],[0.55,0.9],[0.57,0.92],[0.59,0.89],[0.61,0.88],[0.63,0.9],[0.65,0.9],[0.67,0.91],[0.7,0.92],[0.72,0.9],[0.74,0.91],[0.76,0.93],[0.78,0.92],[0.8,0.93],[0.82,0.91],[0.84,0.9],[0.86,0.92],[0.88,0.905],[0.9,0.91],[0.92,0.92],[0.94,0.93],[0.96,0.915],[0.98,0.93],[1.0,0.92]];
const stackVisPPOBand = [[0,0,0.03],[0.05,0.27,0.4],[0.1,0.52,0.62],[0.2,0.72,0.79],[0.3,0.79,0.86],[0.4,0.82,0.9],[0.5,0.88,0.94],[0.53,0.8,0.92],[0.57,0.88,0.96],[0.7,0.88,0.95],[0.8,0.9,0.96],[1.0,0.9,0.95]];

// ---------------- STYLE / LAYOUT ----------------
const C = {td3:"#1f77b4", ppo:"#ff7f0e", t2r:"#8c564b", rlpd:"#d62728"};
const DOT = "2.7,4.3";
const textCol = "#262626";
const gridCol = "#cfcfcf";
const frameCol = "#c8c8c8";
const SANS = "Liberation Sans";
const SERIF = "Liberation Serif";

const topY = [38, 337], botY = [451, 659];
const panels = [
  {i:0, x:[80,463], y:topY, yd:[-0.02,1.05], xd:[0,1], xt:xTicks1, exp:"6", yt:yTicksTop, ylab:true,
   series:[
    {d:pickTaleTD3, b:pickTaleTD3Band, c:C.td3},
    {d:pickTalePPO, b:pickTalePPOBand, c:C.ppo},
    {d:pickBCTD3, b:pickBCTD3Band, c:C.td3, dash:DOT},
    {d:pickBCPPO, b:pickBCPPOBand, c:C.ppo, dash:DOT},
    {d:pickT2RZero, b:pickT2RZeroBand, c:C.t2r, dash:DOT},
    {d:pickT2RFew, b:pickT2RFewBand, c:C.t2r},
    {d:pickRLPD, b:pickRLPDBand, c:C.rlpd}]},
  {i:1, x:[511,895], y:topY, yd:[-0.02,1.05], xd:[0,1], xt:xTicks1, exp:"6", yt:yTicksTop, ylab:false,
   series:[
    {d:stackTaleTD3, b:stackTaleTD3Band, c:C.td3},
    {d:stackTalePPO, b:stackTalePPOBand, c:C.ppo},
    {d:stackBCPPO, b:stackBCPPOBand, c:C.ppo, dash:DOT},
    {d:flatZero1, c:C.t2r},
    {d:flatZero1, c:C.t2r, dash:DOT},
    {d:flatZero1, c:C.td3, dash:DOT},
    {d:stackRLPD, b:stackRLPDBand, c:C.rlpd}]},
  {i:2, x:[943,1325], y:topY, yd:[-0.02,1.05], xd:[0,2], xt:xTicks2, exp:"6", yt:yTicksTop, ylab:false,
   series:[
    {d:pegTaleTD3, b:pegTaleTD3Band, c:C.td3},
    {d:pegTalePPO, b:pegTalePPOBand, c:C.ppo},
    {d:pegBCPPO, b:pegBCPPOBand, c:C.ppo, dash:DOT},
    {d:flatZero2, c:C.t2r},
    {d:flatZero2, c:C.t2r, dash:DOT},
    {d:flatZero2, c:C.td3, dash:DOT},
    {d:pegRLPD, b:pegRLPDBand, c:C.rlpd}]},
  {i:3, x:[76,269], y:botY, yd:[-0.01,1.05], xd:[0,1], xt:xTicksHalf, exp:"5", yt:yTicksBottom, ylab:true,
   series:[{d:lidTD3, b:lidTD3Band, c:C.td3},{d:lidPPO, b:lidPPOBand, c:C.ppo}]},
  {i:4, x:[316,511], y:botY, yd:[-0.01,1.05], xd:[0,3], xt:xTicks3, exp:"5", yt:yTicksBottom, ylab:false,
   series:[{d:drawerTD3, b:drawerTD3Band, c:C.td3},{d:drawerPPO, b:drawerPPOBand, c:C.ppo}]},
  {i:5, x:[599,807], y:botY, yd:[-0.01,1.05], xd:[0,3], xt:xTicks3, exp:"5", yt:yTicksBottom, ylab:false,
   series:[{d:boxTD3, b:boxTD3Band, c:C.td3},{d:boxPPO, b:boxPPOBand, c:C.ppo}]},
  {i:6, x:[858,1066], y:botY, yd:[-0.01,1.05], xd:[0,1], xt:xTicksHalf, exp:"6", yt:yTicksBottom, ylab:false,
   series:[{d:pickVisTD3, b:pickVisTD3Band, c:C.td3},{d:pickVisPPO, b:pickVisPPOBand, c:C.ppo}]},
  {i:7, x:[1117,1325], y:botY, yd:[-0.01,1.05], xd:[0,1], xt:xTicksHalf, exp:"6", yt:yTicksBottom, ylab:false,
   series:[{d:stackVisTD3, b:stackVisTD3Band, c:C.td3},{d:stackVisPPO, b:stackVisPPOBand, c:C.ppo}]}
];

const svg = d3.select("#c");
const defs = svg.append("defs");
const fmt = d3.format(".1f");

panels.forEach(p => {
  const xs = d3.scaleLinear().domain(p.xd).range(p.x);
  const ys = d3.scaleLinear().domain(p.yd).range([p.y[1], p.y[0]]);
  const g = svg.append("g");
  const cid = "clip" + p.i;
  defs.append("clipPath").attr("id", cid).append("rect")
    .attr("x", p.x[0]).attr("y", p.y[0]).attr("width", p.x[1]-p.x[0]).attr("height", p.y[1]-p.y[0]);

  const gy = g.append("g").attr("transform", `translate(${p.x[0]},0)`)
    .call(d3.axisLeft(ys).tickValues(p.yt).tickSize(-(p.x[1]-p.x[0])).tickFormat(p.ylab ? fmt : ""));
  gy.attr("font-family", SERIF).attr("font-size", 22);
  gy.select(".domain").remove();
  gy.selectAll(".tick line").attr("stroke", gridCol).attr("stroke-width", 1.2);
  gy.selectAll(".tick text").attr("font-family", SERIF).attr("x", -12).attr("dy", null)
    .attr("y", 7.5).attr("font-size", 22).attr("fill", textCol);

  const gx = g.append("g").attr("transform", `translate(0,${p.y[1]})`)
    .call(d3.axisBottom(xs).tickValues(p.xt).tickSize(-(p.y[1]-p.y[0])).tickFormat(fmt));
  gx.attr("font-family", SERIF).attr("font-size", 22);
  gx.select(".domain").remove();
  gx.selectAll(".tick line").attr("stroke", gridCol).attr("stroke-width", 1.2);
  gx.selectAll(".tick text").attr("font-family", SERIF).attr("y", 26).attr("dy", null)
    .attr("font-size", 22).attr("fill", textCol);

  const plot = g.append("g").attr("clip-path", `url(#${cid})`);
  const area = d3.area().x(d => xs(d[0])).y0(d => ys(d[1])).y1(d => ys(d[2]));
  const line = d3.line().x(d => xs(d[0])).y(d => ys(d[1]));
  p.series.forEach(s => {
    if (s.b) plot.append("path").attr("d", area(s.b)).attr("fill", s.c).attr("fill-opacity", 0.2).attr("stroke", "none");
  });
  p.series.forEach(s => {
    plot.append("path").attr("d", line(s.d)).attr("fill", "none").attr("stroke", s.c)
      .attr("stroke-width", 2.8).attr("stroke-linejoin", "round")
      .attr("stroke-dasharray", s.dash || null);
  });

  g.append("rect").attr("x", p.x[0]).attr("y", p.y[0]).attr("width", p.x[1]-p.x[0]).attr("height", p.y[1]-p.y[0])
    .attr("fill", "none").attr("stroke", frameCol).attr("stroke-width", 3);

  const cx = (p.x[0]+p.x[1])/2;
  g.append("text").attr("x", cx).attr("y", p.y[0]-16).attr("text-anchor", "middle")
    .attr("font-family", SANS).attr("font-size", 20).attr("fill", textCol).text(panelTitles[p.i]);
  g.append("text").attr("x", cx).attr("y", p.y[1]+56).attr("text-anchor", "middle")
    .attr("font-family", SANS).attr("font-size", 20.5).attr("fill", textCol).text("Steps");
  g.append("text").attr("x", p.x[0]-18).attr("y", p.y[1]+46)
    .attr("font-family", SANS).attr("font-weight", "bold").attr("font-size", 20).attr("fill", textCol).text(panelLetters[p.i]);
  const ex = g.append("text").attr("font-family", SERIF).attr("x", p.x[1]).attr("y", p.y[1]+53).attr("text-anchor", "end")
    .attr("font-size", 21).attr("fill", textCol);
  ex.append("tspan").text("×10");
  ex.append("tspan").attr("dy", -9).attr("font-size", 15).text(p.exp);
  if (p.ylab) {
    const cy = (p.y[0]+p.y[1])/2;
    g.append("text").attr("transform", `translate(26,${cy}) rotate(-90)`).attr("text-anchor", "middle")
      .attr("font-family", SANS).attr("font-size", 20.5).attr("fill", textCol).text("Success Rate");
  }
});

// ---------------- LEGEND ----------------
const leg = svg.append("g").attr("font-family", SANS).attr("font-size", 21).attr("fill", textCol);
function legText(x, y, s, w) {
  leg.append("text").attr("x", x).attr("y", y).attr("textLength", w).attr("lengthAdjust", "spacingAndGlyphs").text(s);
}
function legLine(x1, x2, y, c, dash) {
  leg.append("line").attr("x1", x1).attr("x2", x2).attr("y1", y).attr("y2", y)
    .attr("stroke", c).attr("stroke-width", 3.2).attr("stroke-dasharray", dash || null);
}
const r1 = 757, r2 = 785;
legText(40, r1, "Top and bottom:", 167);
legLine(469, 501, r1-8, C.td3); legText(514, r1, seriesNames[0], 141);
legLine(672, 704, r1-8, C.ppo); legText(716, r1, seriesNames[1], 160);
legText(40, r2, "Top only:", 91);
legLine(149, 182, r2-8, C.td3, DOT); legText(197, r2, seriesNames[2], 126);
legLine(339, 372, r2-8, C.ppo, DOT); legText(386, r2, seriesNames[3], 129);
legLine(537, 570, r2-8, C.t2r, DOT); legText(582, r2, seriesNames[4], 208);
legLine(809, 841, r2-8, C.t2r); legText(853, r2, seriesNames[5], 190);
legLine(1060, 1092, r2-8, C.rlpd); legText(1105, r2, seriesNames[6], 85);
</script></body></html>
